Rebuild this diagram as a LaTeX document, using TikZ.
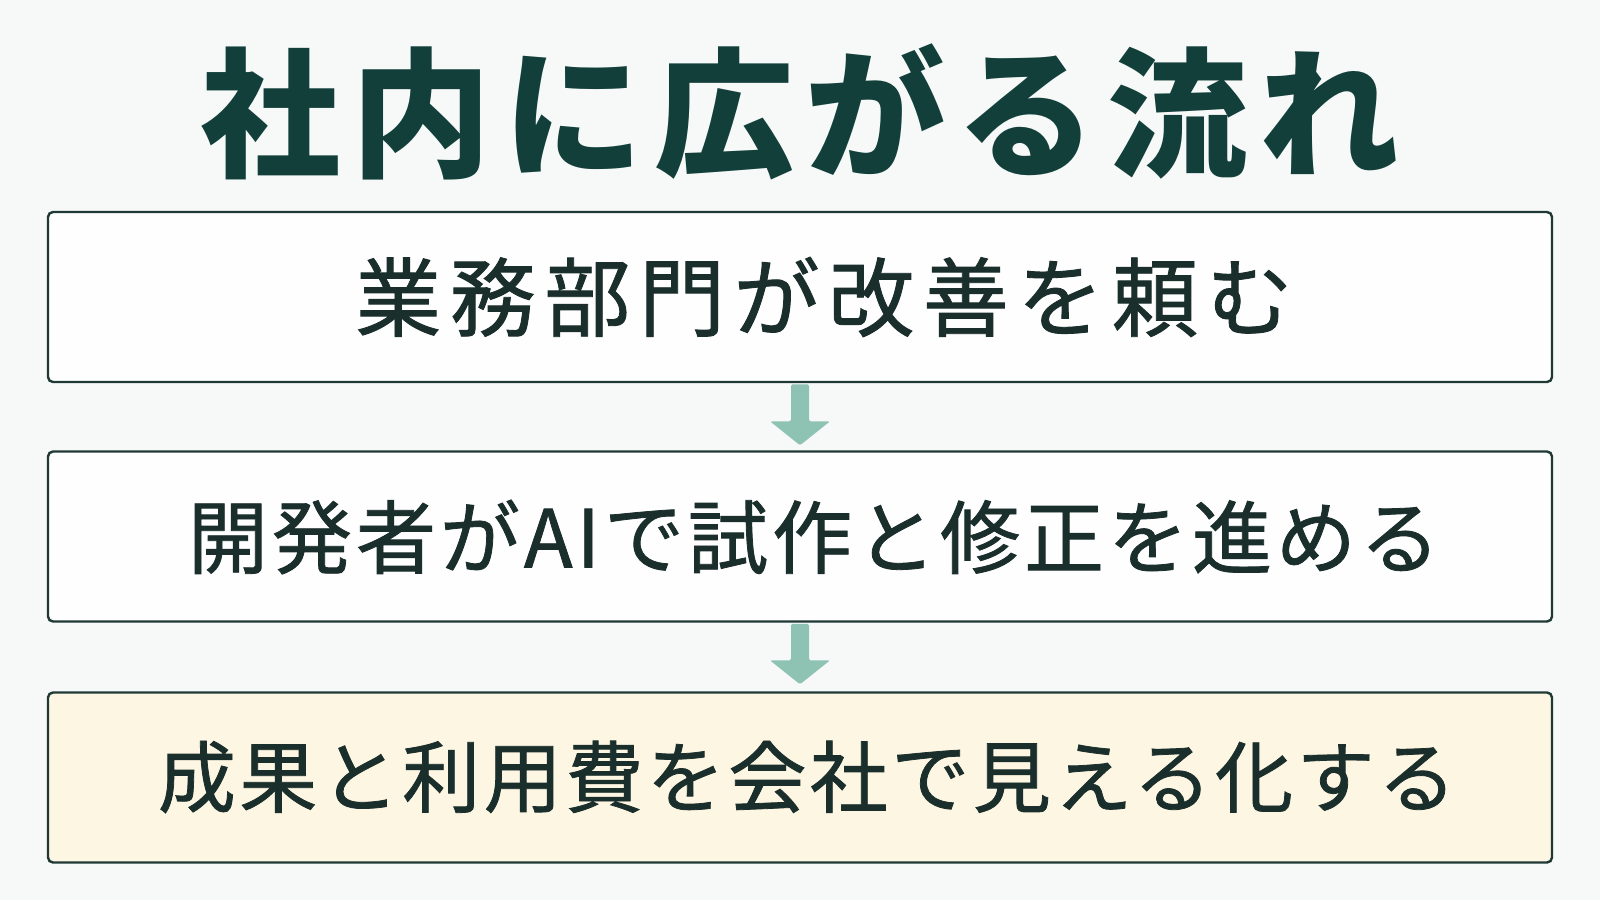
\documentclass[tikz,border=0pt]{standalone}
\usepackage{fontspec}
\usetikzlibrary{calc}
\newfontfamily\jptitle{Noto Sans CJK JP}[LetterSpace=8]
\newfontfamily\jpA{Noto Sans CJK JP}[LetterSpace=10,FakeBold=1]
\newfontfamily\jpB{Noto Sans CJK JP}[LetterSpace=5,FakeBold=1]
\newfontfamily\jpC{Noto Sans CJK JP}[LetterSpace=4.5,FakeBold=1]
\definecolor{bgc}{HTML}{F6F9F8}
\definecolor{titlec}{HTML}{123F3A}
\definecolor{textc}{HTML}{1A2E2C}
\definecolor{borderc}{HTML}{1F3935}
\definecolor{arrowc}{HTML}{8EC2B3}
\definecolor{boxw}{HTML}{FEFEFE}
\definecolor{boxy}{HTML}{FDF6E2}
\tikzset{
  stepbox/.style={draw=borderc, line width=2.4pt, rounded corners=5pt,
    minimum width=1504pt, minimum height=170pt, inner sep=0pt, fill=boxw},
  steptext/.style={text=textc, inner sep=0pt},
  flowarrow/.style={fill=arrowc, rounded corners=1.5pt},
}
% block arrow from the bottom of #1 to just above the top of #2 (gap #3)
\newcommand\flowarr[3]{%
  \fill[flowarrow]
    ($(#1.south)+(-9,1.2)$) -- ($(#2.north)+(-9,-24-#3)$)
    -- ($(#2.north)+(-30,-24-#3)$) -- ($(#2.north)+(0,-#3)$)
    -- ($(#2.north)+(30,-24-#3)$) -- ($(#2.north)+(9,-24-#3)$)
    -- ($(#1.south)+(9,1.2)$) -- cycle;}
\begin{document}
\begin{tikzpicture}[x=1pt,y=-1pt]
\fill[bgc] (0,0) rectangle (1600,900);
\useasboundingbox (0,0) rectangle (1600,900);
\node[text=titlec, inner sep=0pt] (title) at (800,112)
  {\jptitle\bfseries\fontsize{140pt}{150pt}\selectfont 社内に広がる流れ};
\node[stepbox] (b1) at (800,297) {};
\node[stepbox] (b2) at (800,536.5) {};
\node[stepbox, fill=boxy] (b3) at (800,777.5) {};
\node[steptext] (t1) at (824,297)
  {\jpA\fontsize{86pt}{90pt}\selectfont 業務部門が改善を頼む};
\node[steptext] (t2) at (814,537)
  {\jpB\fontsize{80pt}{90pt}\selectfont 開発者がAIで試作と修正を進める};
\node[steptext] (t3) at (807,777)
  {\jpC\fontsize{78pt}{90pt}\selectfont 成果と利用費を会社で見える化する};
\flowarr{b1}{b2}{5}
\flowarr{b2}{b3}{7}
\end{tikzpicture}
\end{document}
